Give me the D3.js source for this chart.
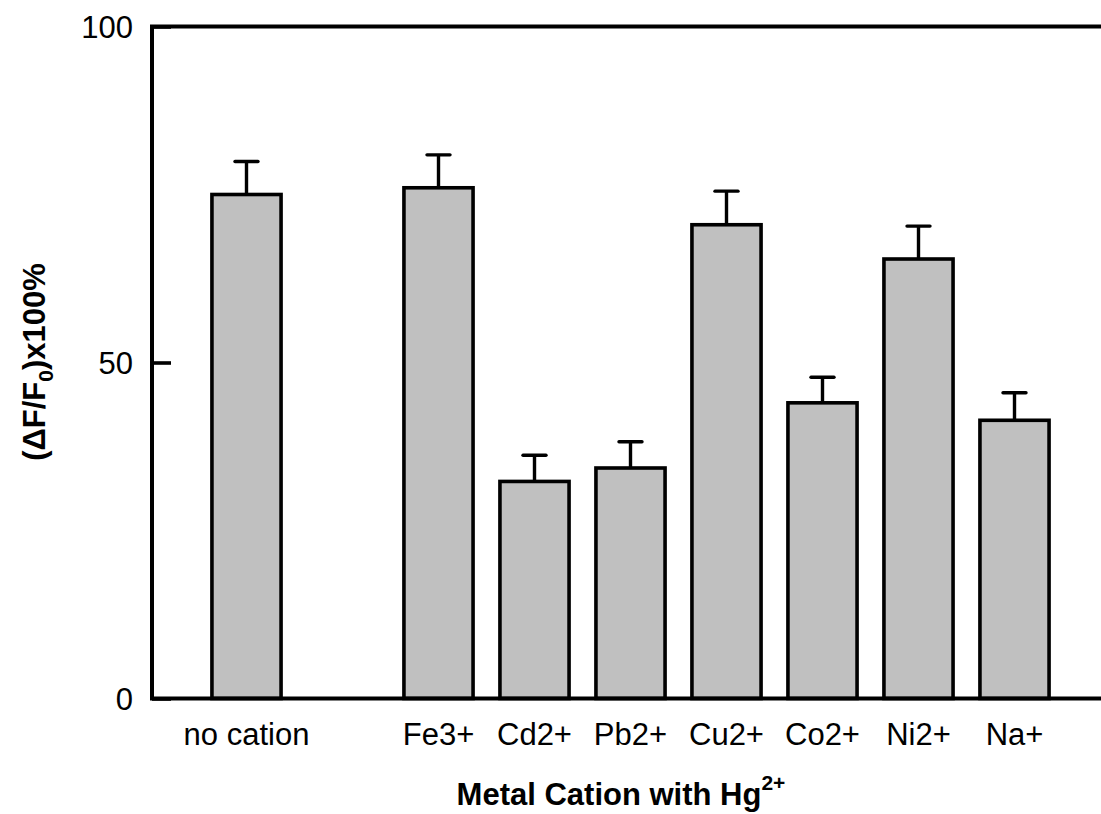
<!DOCTYPE html>
<html>
<head>
<meta charset="utf-8">
<script src="https://cdn.jsdelivr.net/npm/d3@7"></script>
<style>
  body { margin: 0; background: #fff; }
  svg { display: block; font-family: "Liberation Sans", Arial, sans-serif; }
</style>
</head>
<body>
<svg id="mainsvg" width="1101" height="814"></svg>
<script>
// slots along the x axis, "" is the empty gap after "no cation"
var slots = ["no cation", "", "Fe3+", "Cd2+", "Pb2+", "Cu2+", "Co2+", "Ni2+", "Na+"];
var cations = ["no cation", "Fe3+", "Cd2+", "Pb2+", "Cu2+", "Co2+", "Ni2+", "Na+"];
var response = [75, 76, 32.3, 34.3, 70.5, 44, 65.4, 41.4];
var errors = [4.9, 4.9, 3.9, 3.9, 5, 3.8, 4.9, 4.1];
var yTicks = [0, 50, 100];

var svg = d3.select("#mainsvg");
var plotLeft = 152, plotRight = 1101, plotTop = 26.5, plotBottom = 698.5;

var x = d3.scaleBand()
    .domain(slots)
    .range([198.5, 1062.5])
    .paddingInner(0.28)
    .paddingOuter(0.14);

var y = d3.scaleLinear()
    .domain([0, 100])
    .range([plotBottom, plotTop]);

var plot = svg.append("g");

// bars
plot.selectAll("rect.bar")
    .data(cations)
    .enter().append("rect")
    .attr("class", "bar")
    .attr("x", function(d){ return x(d); })
    .attr("width", x.bandwidth())
    .attr("y", function(d, i){ return y(response[i]); })
    .attr("height", function(d, i){ return y(0) - y(response[i]); })
    .style("fill", "#c0c0c0")
    .style("stroke", "#000")
    .style("stroke-width", 3.6);

// error bars (upper only)
var err = plot.selectAll("g.err")
    .data(cations)
    .enter().append("g")
    .attr("class", "err")
    .attr("transform", function(d){ return "translate(" + (x(d) + x.bandwidth() / 2) + ",0)"; });

err.append("line")
    .attr("y1", function(d, i){ return y(response[i]); })
    .attr("y2", function(d, i){ return y(response[i] + errors[i]); })
    .style("stroke", "#000")
    .style("stroke-width", 3.4);

err.append("line")
    .attr("x1", -11.5).attr("x2", 11.5)
    .attr("y1", function(d, i){ return y(response[i] + errors[i]); })
    .attr("y2", function(d, i){ return y(response[i] + errors[i]); })
    .style("stroke", "#000")
    .style("stroke-width", 3.4)
    .style("stroke-linecap", "round");

// frame lines: left, top, bottom
plot.append("path")
    .attr("d", "M" + plotRight + "," + y(100) + "H" + plotLeft + "V" + y(0) + "H" + plotRight)
    .style("fill", "none")
    .style("stroke", "#000")
    .style("stroke-width", 4);

// y axis: inward ticks
var yAxis = svg.append("g")
    .attr("transform", "translate(" + plotLeft + ",0)")
    .call(d3.axisRight(y).tickValues(yTicks).tickSize(19).tickFormat(d3.format("d")));
yAxis.select(".domain").remove();
yAxis.selectAll(".tick line").style("stroke", "#000").style("stroke-width", 3.6);
yAxis.selectAll(".tick text")
    .attr("x", -19)
    .attr("dy", "0.35em")
    .attr("text-anchor", "end")
    .style("font-family", "Liberation Sans, Arial, sans-serif")
    .style("font-size", "31px")
    .style("fill", "#000");

// x labels
svg.append("g").selectAll("text")
    .data(cations)
    .enter().append("text")
    .attr("x", function(d){ return x(d) + x.bandwidth() / 2; })
    .attr("y", 745)
    .attr("text-anchor", "middle")
    .style("font-size", "31px")
    .text(function(d){ return d; });

// x title
var xt = svg.append("text")
    .attr("x", 621)
    .attr("y", 805)
    .attr("text-anchor", "middle")
    .style("font-size", "31px")
    .style("font-weight", "bold");
xt.append("tspan").text("Metal Cation with Hg");
xt.append("tspan").attr("dy", -15).style("font-size", "21px").text("2+");

// y title
var yt = svg.append("text")
    .attr("transform", "translate(45,362) rotate(-90)")
    .attr("text-anchor", "middle")
    .style("font-size", "31px")
    .style("font-weight", "bold");
yt.append("tspan").text("(\u0394F/F");
yt.append("tspan").attr("dy", 8).style("font-size", "21px").text("0");
yt.append("tspan").attr("dy", -8).text(")x100%");
</script>
</body>
</html>
